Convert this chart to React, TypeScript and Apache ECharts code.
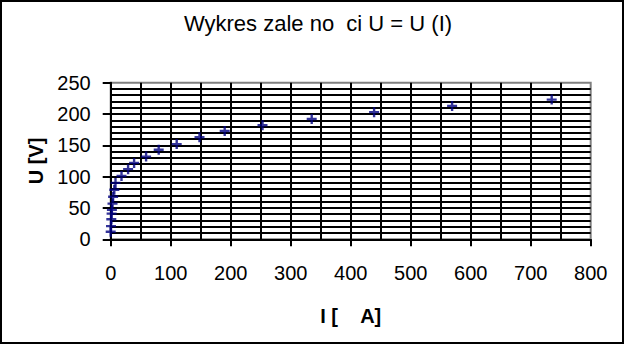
import React, { useEffect, useRef } from "react";
import * as echarts from "echarts";

const currentI: number[] = [0, 0.5, 1, 1.5, 2, 3, 4, 6, 8, 18, 29, 39, 59, 80, 110, 148, 190, 253, 335, 439, 569, 735];
const voltageU: number[] = [12, 21, 32, 41, 47, 57, 68, 79, 90, 101, 112, 122, 132, 143, 152, 163, 173, 182, 192, 203, 213, 223];

const titleText = "Wykres zale\u00a0no\u00a0\u00a0ci U = U (I)";
const xName = "I [\u00a0\u00a0\u00a0\u00a0A]";
const yName = "U [V]";

const FONT = "'Liberation Sans', Arial, sans-serif";
const PLUS = "path://M3.5,0h2.2v3.5h3.5v2.2h-3.5v3.5h-2.2v-3.5h-3.5v-2.2h3.5z";

export default function App() {
  const ref = useRef<HTMLDivElement>(null);
  useEffect(() => {
    if (!ref.current) return;
    const chart = echarts.init(ref.current, undefined, { renderer: "svg" });
    const data = currentI.map((v, i) => [v, voltageU[i]]);
    const lineBlack = { color: "#000", width: 2 };
    chart.setOption({
      animation: false,
      backgroundColor: "#fff",
      title: {
        text: titleText,
        left: 313,
        top: 7,
        textAlign: "center",
        textStyle: { fontFamily: FONT, fontSize: 22, fontWeight: "normal", color: "#000" },
      },
      graphic: [
        {
          type: "rect",
          shape: { x: 1, y: 1, width: 622, height: 342 },
          style: { fill: "none", stroke: "#000", lineWidth: 2 },
          silent: true,
        },
      ],
      grid: {
        left: 110.7,
        right: 34.3,
        top: 82.7,
        bottom: 106.7,
        show: true,
        borderColor: "#808080",
        borderWidth: 2,
        backgroundColor: "transparent",
      },
      xAxis: {
        type: "value",
        min: 0,
        max: 800,
        interval: 100,
        name: xName,
        nameLocation: "middle",
        nameGap: 67,
        nameTextStyle: { fontFamily: FONT, fontSize: 20, fontWeight: "bold", color: "#000" },
        axisLine: { show: true, lineStyle: lineBlack },
        axisTick: { show: true, inside: false, length: 7, lineStyle: lineBlack },
        axisLabel: { fontFamily: FONT, fontSize: 20, color: "#000", margin: 24 },
        splitLine: { show: true, showMaxLine: false, lineStyle: lineBlack },
        minorTick: { show: false, splitNumber: 2 },
        minorSplitLine: { show: true, lineStyle: lineBlack },
      },
      yAxis: {
        type: "value",
        min: 0,
        max: 250,
        interval: 50,
        name: yName,
        nameLocation: "middle",
        nameGap: 63,
        nameRotate: 90,
        nameTextStyle: { fontFamily: FONT, fontSize: 20, fontWeight: "bold", color: "#000" },
        axisLine: { show: true, lineStyle: lineBlack },
        axisTick: { show: true, inside: false, length: 8, lineStyle: lineBlack },
        axisLabel: { fontFamily: FONT, fontSize: 20, color: "#000", margin: 20 },
        splitLine: { show: true, showMaxLine: false, lineStyle: lineBlack },
        minorTick: { show: false, splitNumber: 5 },
        minorSplitLine: { show: true, lineStyle: lineBlack },
      },
      series: [
        {
          type: "scatter",
          data,
          symbol: PLUS,
          symbolSize: 10,
          itemStyle: { color: "#000080" },
          z: 5,
        },
      ],
    });
    return () => chart.dispose();
  }, []);
  return (
    <div
      ref={ref}
      style={{ position: "fixed", left: 0, top: 0, width: 625, height: 346 }}
    />
  );
}
